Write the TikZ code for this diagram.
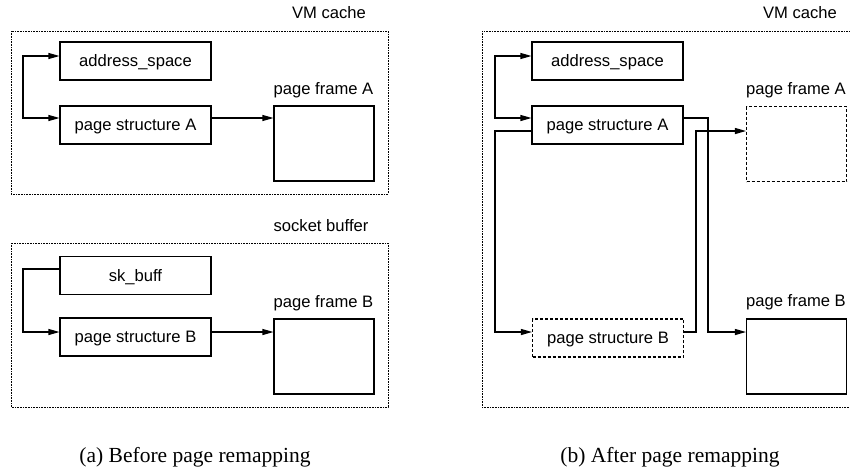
\documentclass[tikz,border=0pt]{standalone}
\usepackage{fontspec}
\setmainfont{Liberation Serif}
\setsansfont{Liberation Sans}
\usetikzlibrary{arrows.meta,calc}

\tikzset{
  lbl/.style={font=\sffamily\fontsize{16.6}{20}\selectfont, inner sep=0pt, anchor=base},
  obj/.style={draw, line width=1.1pt, minimum width=151pt, minimum height=38pt,
    inner sep=0pt, font=\sffamily\fontsize{16.6}{20}\selectfont,
    text height=14pt, text depth=2.6pt},
  frame/.style={draw, line width=1.1pt, minimum width=100pt, minimum height=75pt, inner sep=0pt},
  ghost/.style={dash pattern=on 3pt off 2pt},
  region/.style={draw, line width=0.8pt, dash pattern=on 0.8pt off 0.8pt},
  arr/.style={line width=1.1pt, -{Triangle[length=11pt,width=6pt]}},
  biarr/.style={line width=1.1pt, {Triangle[length=11pt,width=6pt]}-{Triangle[length=11pt,width=6pt]}},
  captext/.style={font=\fontsize{21.5}{24}\selectfont, inner sep=0pt, anchor=base},
}

\begin{document}
\begin{tikzpicture}[x=1pt, y=-1pt]
\useasboundingbox (0,0) rectangle (850,472);

% ---------------- (a) before remapping ----------------
\draw[region] (11,31) rectangle (388,194);
\draw[region] (11,243) rectangle (388,407);
\node[lbl] (vmA) at (329,18) {VM cache};
\node[lbl] (sock) at (321,231) {socket buffer};

\node[obj] (asL) at (135.5,61) {address\_space};
\node[obj] (psAL) at (135.5,125) {page structure A};
\node[frame] (pfAL) at (324,143.5) {};
\node[lbl] (pfALbl) at (323.5,94) {page frame A};

\node[obj] (skb) at (135.5,275.5) {sk\_buff};
\node[obj] (psBL) at (135.5,337) {page structure B};
\node[frame] (pfBL) at (324,356.5) {};
\node[lbl] (pfBLbl) at (323.5,307) {page frame B};

\coordinate (jL) at (23,87);
\coordinate (jLB) at (23,300);
\draw[biarr] ([yshift=5pt]asL.west) -| (jL) |- ([yshift=7pt]psAL.west);
\draw[arr] ([yshift=7pt]psAL.east) -- ([yshift=7pt]psAL.east -| pfAL.west);
\draw[arr] ([yshift=6.5pt]skb.west) -| (jLB) |- ([yshift=5pt]psBL.west);
\draw[arr] ([yshift=5pt]psBL.east) -- ([yshift=5pt]psBL.east -| pfBL.west);

% ---------------- (b) after remapping ----------------
\draw[region] (482,31) rectangle (853,407);
\node[lbl] (vmB) at (800,18) {VM cache};

\node[obj] (asR) at (607.5,61) {address\_space};
\node[obj] (psAR) at (607.5,125) {page structure A};
\node[obj, ghost] (psBR) at (608,338) {page structure B};
\node[frame, ghost] (pfAR) at (796.5,144) {};
\node[lbl] (pfARlbl) at (796,94) {page frame A};
\node[frame] (pfBR) at (796.5,356.5) {};
\node[lbl] (pfBRlbl) at (796,306) {page frame B};

\coordinate (jR) at (495,87);
\coordinate (jR2) at (495,230);
\coordinate (kA) at (708,230);
\coordinate (kB) at (696,230);
\draw[biarr] ([yshift=5pt]asR.west) -| (jR) |- ([yshift=7pt]psAR.west);
\draw[arr] ([yshift=-6pt]psAR.west) -| (jR2) |- ([yshift=6pt]psBR.west);
\draw[arr] ([yshift=7pt]psAR.east) -| (kA) |- ([yshift=6pt]psBR.east -| pfBR.west);
\draw[arr] ([yshift=6pt]psBR.east) -| (kB) |- ([yshift=-6pt]psAR.east -| pfAR.west);

% ---------------- captions ----------------
\node[captext] (capA) at (195,462) {(a) Before page remapping};
\node[captext] (capB) at (670,462) {(b) After page remapping};
\end{tikzpicture}
\end{document}
